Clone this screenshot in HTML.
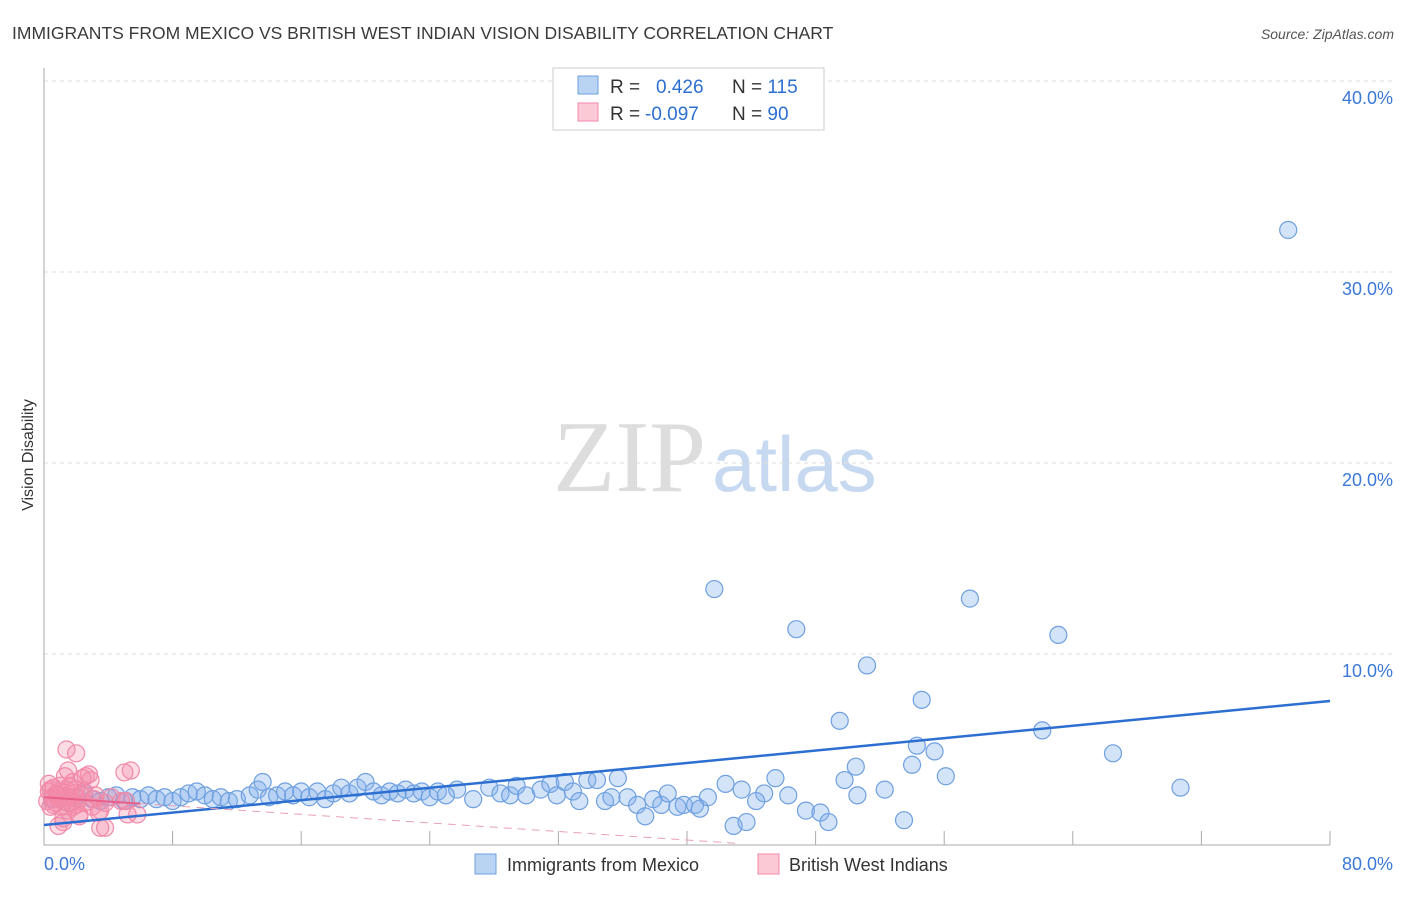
<!DOCTYPE html>
<html><head><meta charset="utf-8"><style>
body{margin:0;background:#fff;font-family:"Liberation Sans",sans-serif}
</style></head><body>
<svg id="chart" width="1406" height="892" xmlns="http://www.w3.org/2000/svg">
<text x="12" y="39" font-size="17.5" fill="#3a3a3a">IMMIGRANTS FROM MEXICO VS BRITISH WEST INDIAN VISION DISABILITY CORRELATION CHART</text>
<text x="1394" y="39" font-size="14" font-style="italic" fill="#555" text-anchor="end">Source: ZipAtlas.com</text>
<text transform="translate(33,455) rotate(-90)" font-size="16" fill="#333" text-anchor="middle">Vision Disability</text>
<text x="553" y="491" font-size="102" fill="#ddd" font-family="Liberation Serif,serif">ZIP<tspan fill="#c7d9f0" font-family="Liberation Sans,sans-serif" font-size="78" dx="6">atlas</tspan></text>
<g id="grid"></g><g id="pts"></g><g id="lines"></g>
<g>
<rect x="553" y="68" width="271" height="62" fill="#fff" stroke="#ccc"/>
<rect x="578" y="76" width="20" height="18" fill="#b9d3f3" stroke="#6fa0e0"/>
<rect x="578" y="103" width="20" height="18" fill="#fbc8d6" stroke="#f08aa8"/>
<text x="610" y="93" font-size="19" fill="#333">R = <tspan fill="#2d6fd1" x="656">0.426</tspan><tspan x="732">N = </tspan><tspan fill="#2d6fd1">115</tspan></text>
<text x="610" y="120" font-size="19" fill="#333">R = <tspan fill="#2d6fd1" x="645">-0.097</tspan><tspan x="732">N = </tspan><tspan fill="#2d6fd1"> 90</tspan></text>
</g>
<g>
<rect x="475" y="854" width="21" height="20" fill="#b9d3f3" stroke="#6fa0e0"/>
<text x="507" y="871" font-size="18" fill="#333">Immigrants from Mexico</text>
<rect x="758" y="854" width="21" height="20" fill="#fbc8d6" stroke="#f08aa8"/>
<text x="789" y="871" font-size="18" fill="#333">British West Indians</text>
</g>
</svg>
<script>
const yTicks=[10,20,30,40];
const xTickLabels=["0.0%","80.0%"];
const blueX=[77.4,41.7,57.6,46.8,63.1,51.2,54.6,49.5,62.1,54.3,55.4,66.5,50.5,54.0,56.1,45.5,70.7,49.8,50.6,52.3,42.4,43.4,44.8,46.3,44.3,47.4,48.3,48.8,53.5,42.9,43.7,
25.7,26.7,27.7,28.4,29.0,29.4,30.0,30.9,31.5,31.9,32.4,32.9,33.3,33.8,34.4,34.9,35.3,35.7,36.3,36.9,37.4,37.9,38.4,38.8,39.4,39.8,40.5,40.8,41.3,
0.5,1,1.5,2,2.5,3,3.5,4,4.5,5,5.5,6,6.5,7,7.5,8,8.5,9,9.5,10,10.5,11,11.5,12,12.8,13.3,13.6,14,14.5,15,15.5,16,16.5,17,17.5,18,18.5,19,19.5,20,20.5,21,21.5,22,22.5,23,23.5,24,24.5,25];
const blueY=[32.2,13.4,12.9,11.3,11.0,9.4,7.6,6.5,6.0,5.2,4.9,4.8,4.1,4.2,3.6,3.5,3.0,3.4,2.6,2.9,3.2,2.9,2.7,2.6,2.3,1.8,1.7,1.2,1.3,1.0,1.2,
2.9,2.4,3.0,2.7,2.6,3.1,2.6,2.9,3.2,2.6,3.3,2.8,2.3,3.4,3.4,2.3,2.5,3.5,2.5,2.1,1.5,2.4,2.1,2.7,2.0,2.1,2.1,1.9,2.5,
2.4,2.6,2.2,2.5,2.7,2.4,2.3,2.5,2.6,2.3,2.5,2.4,2.6,2.4,2.5,2.3,2.5,2.7,2.8,2.6,2.4,2.5,2.3,2.4,2.6,2.9,3.3,2.5,2.6,2.8,2.6,2.8,2.5,2.8,2.4,2.7,3.0,2.7,3.0,3.3,2.8,2.6,2.8,2.7,2.9,2.7,2.8,2.5,2.8,2.6];
const pinkX=[0.2,0.3,0.4,0.5,0.6,0.7,0.8,0.9,1.0,1.1,1.2,1.3,1.4,1.5,1.6,1.7,1.8,1.9,2.0,2.1,2.2,1.4,2.4,2.5,1.2,1.5,2.0,3.0,3.2,3.4,2.6,3.8,2.8,4.2,3.5,1.6,4.8,2.2,2.9,3.5,3.8,1.0,5.0,5.4,5.2,0.9,1.2,1.3,0.3,0.6,1.5,2.0,2.5,5.1,5.8,0.8,0.4,1.8,2.3,3.1];
const pinkY=[2.3,2.8,2.0,2.5,3.0,2.2,2.7,2.4,3.1,2.0,2.6,2.3,2.9,1.8,2.5,2.2,3.3,2.7,2.1,2.4,1.5,5.0,3.5,2.8,1.2,3.9,4.8,2.0,2.6,1.7,3.6,2.2,3.7,2.5,1.8,3.1,2.3,1.6,3.4,0.9,0.9,2.8,3.8,3.9,1.6,1.0,1.4,3.6,3.2,2.1,2.5,2.9,2.2,2.3,1.6,2.6,2.9,2.0,2.6,2.4];
const blueTrend=[1.05,7.54];
const pinkTrend=[2.5,-0.056];
const NS="http://www.w3.org/2000/svg";
const X=v=>44+v*16.075, Y=v=>845-v*19.1;
function mk(t,a,p){const e=document.createElementNS(NS,t);for(const k in a)e.setAttribute(k,a[k]);p.appendChild(e);return e;}
const grid=document.getElementById('grid');
yTicks.forEach(t=>{
 const l=mk('line',{x1:44,x2:1392,y1:Y(t),y2:Y(t),stroke:'#ddd','stroke-dasharray':'4,4'},grid);
 
 
 const tx=mk('text',{x:1393,y:Y(t)+23,'font-size':18,fill:'#3b78d8','text-anchor':'end'},grid);
 tx.textContent=t.toFixed(1)+'%';
 
 
});
const ax=mk('path',{d:'M44,68V845H1330',stroke:'#aaa',fill:'none'},grid);


for(let i=1;i<=10;i++){const tk=mk('line',{x1:X(i*8),x2:X(i*8),y1:831,y2:845,stroke:'#aaa'},grid);
 
 }
const xl0=mk('text',{x:44,y:870,'font-size':18,fill:'#3b78d8'},grid);xl0.textContent=xTickLabels[0];


const xl1=mk('text',{x:1393,y:870,'font-size':18,fill:'#3b78d8','text-anchor':'end'},grid);xl1.textContent=xTickLabels[1];


const pts=document.getElementById('pts');
blueX.forEach((x,i)=>{const c=mk('circle',{cx:X(x),cy:Y(blueY[i]),r:8.5,fill:'rgba(130,175,235,0.35)',stroke:'#6fa0e0','stroke-width':1.2},pts);
 
 });
pinkX.forEach((x,i)=>{const c=mk('circle',{cx:X(x),cy:Y(pinkY[i]),r:8.5,fill:'rgba(245,140,170,0.3)',stroke:'#f08aa8','stroke-width':1.2},pts);
 
 });
const ln=document.getElementById('lines');
const bt=mk('line',{x1:X(0),y1:Y(blueTrend[0]),x2:X(80),y2:Y(blueTrend[1]),stroke:'#2d6fd1','stroke-width':2.5},ln);


const ps=mk('line',{x1:X(0),y1:Y(pinkTrend[0]),x2:X(6),y2:Y(pinkTrend[0]+pinkTrend[1]*6),stroke:'#e8608a','stroke-width':2},ln);


const pd=mk('line',{x1:X(6),y1:Y(pinkTrend[0]+pinkTrend[1]*6),x2:X(43),y2:Y(pinkTrend[0]+pinkTrend[1]*43),stroke:'#e8a0b5','stroke-width':1,'stroke-dasharray':'8,6'},ln);


</script>
</body></html>
